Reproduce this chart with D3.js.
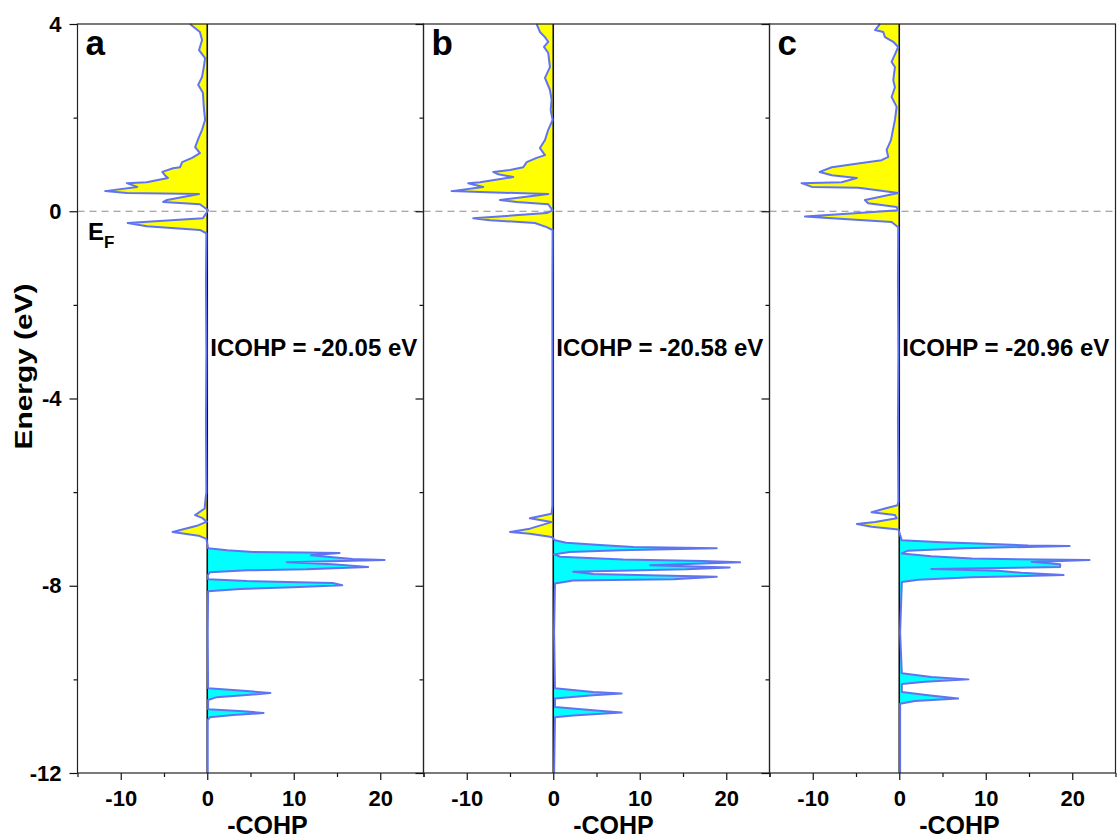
<!DOCTYPE html>
<html>
<head>
<meta charset="utf-8">
<script src="https://cdn.jsdelivr.net/npm/d3@7"></script>
<style>
  body { margin: 0; background: #fff; }
  svg { display: block; }
</style>
</head>
<body>
<div id="chart"></div>
<script>
// Panel letters and integrated COHP labels
const panelNames = ["a", "b", "c"];
const icohpLabels = ["ICOHP = -20.05 eV", "ICOHP = -20.58 eV", "ICOHP = -20.96 eV"];
const icohpEnergy = -3.1;

// Axis ticks
const yMajor = [4, 0, -4, -8, -12];
const yMinor = [2, -2, -6, -10];
const xMajor = [-10, 0, 10, 20];
const xMinor = [-15, -5, 5, 15, 25];

// [energy (eV), -COHP], top to bottom
const cohpA = [[4.0,-2.0],[3.83,-0.85],[3.66,-0.6],[3.44,-0.95],[3.27,-0.25],[3.08,-0.4],[2.87,-0.6],[2.70,-1.05],[2.53,-0.5],[2.23,-0.4],[1.95,-0.25],[1.74,-0.6],[1.59,-0.95],[1.37,-1.4],[1.24,-0.85],[1.14,-1.75],[1.05,-2.9],[0.94,-3.15],[0.92,-3.95],[0.84,-5.2],[0.77,-4.9],[0.71,-4.55],[0.62,-7.0],[0.60,-9.3],[0.52,-8.1],[0.43,-11.8],[0.39,-9.3],[0.37,-0.95],[0.24,-4.65],[0.20,-5.1],[0.15,-0.85],[0.02,0.1],[-0.15,-0.5],[-0.25,-9.2],[-0.32,-7.0],[-0.40,-0.85],[-0.47,-0.1],[-1.5,-0.15],[-3.0,-0.1],[-4.5,-0.15],[-6.0,-0.1],[-6.15,-0.2],[-6.35,-0.3],[-6.49,-1.4],[-6.55,-0.6],[-6.63,-0.05],[-6.72,-1.2],[-6.85,-4.0],[-6.93,-1.0],[-7.0,-0.1],[-7.2,0.1],[-7.24,2.3],[-7.28,5.3],[-7.29,11.1],[-7.30,15.3],[-7.35,12.0],[-7.39,14.5],[-7.43,16.8],[-7.45,20.5],[-7.50,9.2],[-7.54,14.5],[-7.60,18.6],[-7.65,11.5],[-7.67,4.6],[-7.71,0.3],[-7.78,0.05],[-7.86,0.1],[-7.90,4.6],[-7.94,14.5],[-7.99,15.6],[-8.03,9.9],[-8.07,3.8],[-8.12,0.1],[-9.0,0.05],[-10.19,0.1],[-10.25,4.6],[-10.29,7.3],[-10.34,4.2],[-10.38,1.1],[-10.44,0.1],[-10.64,0.1],[-10.68,4.2],[-10.72,6.5],[-10.76,3.0],[-10.81,0.3],[-10.87,0.05],[-12.0,0.05]];

const cohpB = [[4.0,-1.92],[3.83,-1.54],[3.72,-0.96],[3.62,-0.58],[3.51,-1.07],[3.38,-0.58],[3.08,-0.38],[2.85,-0.96],[2.59,-0.38],[2.38,-0.19],[2.16,-0.3],[1.95,-0.07],[1.74,-0.58],[1.52,-0.96],[1.35,-1.54],[1.20,-0.96],[1.14,-1.92],[1.05,-3.07],[0.94,-3.47],[0.88,-5.0],[0.84,-6.94],[0.79,-6.36],[0.73,-4.62],[0.62,-8.47],[0.60,-9.83],[0.52,-8.09],[0.43,-11.75],[0.41,-8.47],[0.37,-0.58],[0.24,-6.16],[0.20,-4.23],[0.15,-0.58],[0.02,-0.07],[-0.04,-0.76],[-0.15,-9.25],[-0.19,-7.32],[-0.25,-2.12],[-0.34,-0.76],[-0.40,-0.07],[-1.5,-0.1],[-3.0,-0.1],[-4.5,-0.1],[-6.3,-0.1],[-6.46,-0.2],[-6.56,-2.7],[-6.64,-0.2],[-6.78,-2.7],[-6.85,-5.0],[-6.89,-2.7],[-6.96,-0.2],[-7.03,0.2],[-7.08,1.5],[-7.13,5.4],[-7.17,9.25],[-7.20,18.9],[-7.24,7.7],[-7.28,1.9],[-7.33,0.1],[-7.38,0.8],[-7.44,8.1],[-7.47,17.3],[-7.50,21.6],[-7.56,11.2],[-7.61,20.4],[-7.65,15.4],[-7.70,2.3],[-7.75,4.6],[-7.81,18.9],[-7.86,13.9],[-7.89,2.3],[-7.95,0.2],[-9.0,0.1],[-10.19,0.2],[-10.27,4.6],[-10.30,7.9],[-10.34,4.6],[-10.41,0.2],[-10.59,0.2],[-10.66,4.6],[-10.71,7.9],[-10.77,2.3],[-10.81,0.2],[-12.0,0.1]];

const cohpC = [[4.0,-2.23],[3.87,-2.8],[3.83,-1.85],[3.72,-1.65],[3.62,-0.69],[3.51,-0.12],[3.19,-0.88],[3.08,-0.5],[2.80,-0.69],[2.65,-0.5],[2.44,-0.88],[2.23,-0.3],[1.95,-0.5],[1.52,-0.96],[1.31,-1.46],[1.16,-1.27],[1.09,-2.04],[1.03,-4.35],[0.94,-7.8],[0.84,-9.2],[0.77,-7.8],[0.71,-4.9],[0.62,-6.66],[0.60,-11.3],[0.52,-10.1],[0.50,-4.7],[0.39,-0.12],[0.24,-3.97],[0.17,-3.6],[0.09,-0.3],[0.02,-0.12],[-0.04,-4.7],[-0.11,-10.9],[-0.15,-7.8],[-0.23,-0.88],[-0.34,-0.12],[-1.5,-0.15],[-3.0,-0.1],[-4.5,-0.15],[-6.2,-0.1],[-6.28,-0.2],[-6.35,-1.65],[-6.43,-3.2],[-6.49,-0.5],[-6.56,-0.3],[-6.64,-2.8],[-6.68,-4.9],[-6.74,-3.2],[-6.80,-0.1],[-7.03,0.3],[-7.07,4.9],[-7.10,9.1],[-7.14,14.9],[-7.15,19.7],[-7.20,7.6],[-7.25,1.0],[-7.31,0.3],[-7.37,3.7],[-7.42,8.4],[-7.45,22.0],[-7.49,15.3],[-7.54,18.6],[-7.60,18.6],[-7.64,3.7],[-7.68,11.4],[-7.72,14.1],[-7.77,19.0],[-7.82,8.4],[-7.87,2.2],[-7.92,0.3],[-9.0,0.1],[-9.87,0.3],[-9.95,3.7],[-10.00,8.0],[-10.05,3.0],[-10.10,0.3],[-10.27,0.3],[-10.34,3.35],[-10.41,6.8],[-10.46,1.8],[-10.52,0.1],[-12.0,0.1]];

const panelData = [cohpA, cohpB, cohpC];

// Layout
const margin = {top: 24, right: 2.5, bottom: 66, left: 77.5},
    panelW = 346,
    width = panelW * 3,
    height = 749;
const font = "Arial, 'Liberation Sans', sans-serif";
const lineColor = "#6074f2";
const plain = d => String(d);   // hyphen minus, as in the original

const svg = d3.select("#chart")
    .append("svg")
    .attr("width", 1118)
    .attr("height", 839)
    .style("font-family", font)
    .style("font-weight", "bold");

const g = svg.append("g")
    .attr("transform", `translate(${margin.left}, ${margin.top})`);

const y = d3.scaleLinear().domain([-12, 4]).range([height, 0]);
const x = d3.scaleLinear().domain([-15, 25]).range([0, panelW]);

const defs = svg.append("defs");

panelData.forEach(function(data, i) {
    const p = g.append("g").attr("transform", `translate(${i * panelW}, 0)`);
    const x0 = x(0);

    // clip regions for negative (yellow) and positive (cyan) parts
    defs.append("clipPath").attr("id", "neg" + i)
        .append("rect").attr("x", 0).attr("y", 0).attr("width", x0).attr("height", height);
    defs.append("clipPath").attr("id", "pos" + i)
        .append("rect").attr("x", x0).attr("y", 0).attr("width", panelW - x0).attr("height", height);

    const area = d3.area()
        .y(d => y(d[0]))
        .x0(x0)
        .x1(d => x(d[1]));

    p.append("path").datum(data)
        .attr("d", area)
        .attr("fill", "#ffff00")
        .attr("clip-path", `url(#neg${i})`);
    p.append("path").datum(data)
        .attr("d", area)
        .attr("fill", "#00ffff")
        .attr("clip-path", `url(#pos${i})`);

    // Fermi level
    p.append("line")
        .attr("x1", 0).attr("x2", panelW)
        .attr("y1", y(0)).attr("y2", y(0))
        .attr("stroke", "#8a8a8a")
        .attr("stroke-width", 1.2)
        .attr("stroke-dasharray", "7,5");

    // zero line
    p.append("line")
        .attr("x1", x0).attr("x2", x0)
        .attr("y1", 0).attr("y2", height)
        .attr("stroke", "#111")
        .attr("stroke-width", 1.6);

    p.append("path").datum(data)
        .attr("d", d3.line().x(d => x(d[1])).y(d => y(d[0])))
        .attr("fill", "none")
        .attr("stroke", lineColor)
        .attr("stroke-width", 2)
        .attr("stroke-linejoin", "round");

    // y ticks along the left edge of each panel
    p.append("g")
        .call(d3.axisLeft(y).tickValues(yMajor).tickSize(8).tickPadding(8)
            .tickFormat(i === 0 ? plain : ""));
    p.append("g")
        .call(d3.axisLeft(y).tickValues(yMinor).tickSize(4).tickFormat(""));

    // x ticks
    p.append("g")
        .attr("transform", `translate(0, ${height})`)
        .call(d3.axisBottom(x).tickValues(xMajor).tickSize(7).tickPadding(10).tickFormat(plain));
    p.append("g")
        .attr("transform", `translate(0, ${height})`)
        .call(d3.axisBottom(x).tickValues(xMinor).tickSize(4).tickFormat(""));

    p.selectAll(".domain").remove();
    p.selectAll(".tick line").attr("stroke", "#111").attr("stroke-width", 1.2);
    p.selectAll(".tick text")
        .attr("fill", "#000")
        .attr("font-family", font)
        .attr("font-weight", "bold")
        .attr("font-size", 22);

    // frame
    p.append("rect")
        .attr("width", panelW).attr("height", height)
        .attr("fill", "none")
        .attr("stroke", "#222")
        .attr("stroke-width", 1.2);

    // panel letter
    p.append("text")
        .attr("x", 8).attr("y", 31)
        .attr("font-size", 35)
        .text(panelNames[i]);

    p.append("text")
        .attr("x", x0 + 3).attr("y", y(icohpEnergy))
        .attr("font-size", 24)
        .text(icohpLabels[i]);

    // x axis title
    p.append("text")
        .attr("x", 190).attr("y", height + 61)
        .attr("text-anchor", "middle")
        .attr("font-size", 25)
        .text("-COHP");
});

// E_F label
const ef = g.append("text")
    .attr("x", 10.5).attr("y", y(0) + 29)
    .attr("font-size", 24);
ef.append("tspan").text("E");
ef.append("tspan").attr("dy", 8).attr("font-size", 17).text("F");

// y axis title
g.append("text")
    .attr("transform", `translate(${31.5 - margin.left}, ${366.5 - margin.top}) rotate(-90)`)
    .attr("text-anchor", "middle")
    .attr("font-size", 23)
    .attr("textLength", 166)
    .attr("lengthAdjust", "spacingAndGlyphs")
    .text("Energy (eV)");
</script>
</body>
</html>
